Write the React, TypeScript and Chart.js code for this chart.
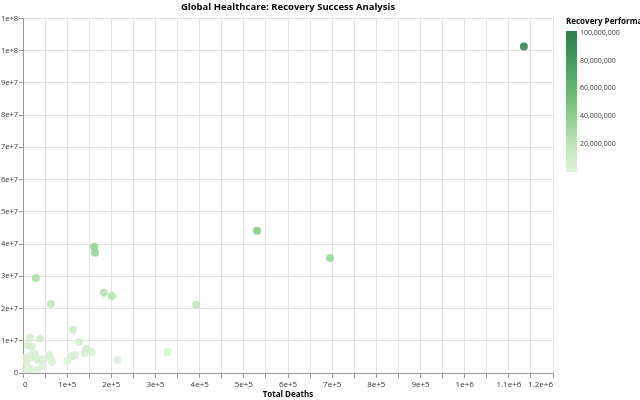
import React, { useEffect, useRef } from "react";
import { Chart, registerables } from "chart.js";

Chart.register(...registerables);

const chartTitle = "Global Healthcare: Recovery Success Analysis";
const xTitle = "Total Deaths";
const legendTitle = "Recovery Performance";

const totalDeaths = [
  1134000, 530000, 695000, 161000, 163000, 29000, 183000, 201000, 392000, 63000,
  113000, 16000, 38000, 127000, 11000, 20000, 143000, 156000, 140000, 111000,
  100000, 328000, 215000, 118000, 0, 2000, 9000, 18000, 27000, 34000,
  45000, 61000, 66000, 59000, 45000, 32000, 20000, 9000, 5000, 38000,
  14000, 25000,
];
const totalRecovered = [
  101300000, 44100000, 35700000, 39200000, 37300000, 29500000, 24900000, 23900000, 21100000, 21400000,
  13400000, 10900000, 10600000, 9600000, 8700000, 8100000, 7500000, 6500000, 6200000, 5300000,
  3700000, 6500000, 4000000, 5600000, 300000, 4700000, 4000000, 5600000, 5900000, 4000000,
  4300000, 4700000, 3400000, 5600000, 2200000, 900000, 600000, 2200000, 3400000, 4000000,
  1500000, 4800000,
];
const legendTicks = [20000000, 40000000, 60000000, 80000000, 100000000];

const colorStops: [number, [number, number, number]][] = [
  [0, [224, 243, 219]],
  [0.2, [190, 228, 183]],
  [0.4, [140, 205, 138]],
  [0.6, [96, 182, 110]],
  [0.8, [65, 155, 92]],
  [1, [45, 125, 78]],
];

function colorAt(t: number, alpha = 1): string {
  t = Math.max(0, Math.min(1, t));
  for (let i = 1; i < colorStops.length; i++) {
    const [t1, c1] = colorStops[i];
    const [t0, c0] = colorStops[i - 1];
    if (t <= t1) {
      const f = (t - t0) / (t1 - t0);
      const c = c0.map((v, k) => Math.round(v + (c1[k] - v) * f));
      return `rgba(${c[0]},${c[1]},${c[2]},${alpha})`;
    }
  }
  const c = colorStops[colorStops.length - 1][1];
  return `rgba(${c[0]},${c[1]},${c[2]},${alpha})`;
}

const colorMax = Math.max(...totalRecovered);

const FONT = "'Open Sans', 'Noto Sans', sans-serif";

const legendPlugin = {
  id: "gradLegend",
  afterDraw(chart: any) {
    const ctx = chart.ctx as CanvasRenderingContext2D;
    const x = 566, top = 31, bottom = 172, w = 11;
    const h = bottom - top;
    ctx.save();
    const g = ctx.createLinearGradient(0, bottom, 0, top);
    for (let i = 0; i <= 20; i++) g.addColorStop(i / 20, colorAt(i / 20));
    ctx.fillStyle = g;
    ctx.fillRect(x, top, w, h);
    ctx.fillStyle = "#000";
    ctx.font = `bold 8px ${FONT}`;
    ctx.textAlign = "left";
    ctx.textBaseline = "middle";
    ctx.fillText(legendTitle, x, 22);
    ctx.font = `7px ${FONT}`;
    ctx.fillStyle = "#333";
    for (const v of legendTicks) {
      const y = bottom - (v / colorMax) * h;
      ctx.fillText(v.toLocaleString("en-US"), x + 14, y);
    }
    ctx.restore();
  },
};

export default function App() {
  const ref = useRef<HTMLCanvasElement | null>(null);
  useEffect(() => {
    if (!ref.current) return;
    const points = totalDeaths.map((d, i) => ({ x: d, y: totalRecovered[i] }));
    const colors = totalRecovered.map((v) => colorAt(v / colorMax, 0.85));
    const chart = new Chart(ref.current, {
      type: "scatter",
      data: {
        datasets: [
          {
            data: points,
            pointBackgroundColor: colors,
            pointBorderColor: colors,
            pointBorderWidth: 0,
            pointRadius: 4,
          },
        ],
      },
      options: {
        responsive: false,
        animation: false,
        layout: { padding: { left: 0, right: 87, top: 0, bottom: 0 } },
        plugins: {
          legend: { display: false },
          tooltip: { enabled: false },
          title: {
            display: true,
            text: chartTitle,
            fullSize: false,
            color: "#000",
            font: { family: FONT, size: 9.5, weight: "bold" },
            padding: { top: 2, bottom: 5 },
          },
        },
        scales: {
          x: {
            type: "linear",
            min: 0,
            max: 1200000,
            ticks: {
              stepSize: 50000,
              autoSkip: false,
              maxRotation: 0,
              align: "inner",
              color: "#333",
              padding: 2,
              font: { family: FONT, size: 8 },
              callback: (v: any) => (Number(v) % 100000 === 0 ? (Number(v) === 0 ? "0" : Number(v).toExponential()) : ""),
            },
            grid: { color: "#e3e3e3", tickColor: "#999", tickLength: 5 },
            border: { color: "#999", width: 1 },
            title: {
              display: true,
              text: xTitle,
              color: "#000",
              font: { family: FONT, size: 8, weight: "bold" },
              padding: { top: 2, bottom: 0 },
            },
            afterFit: (s: any) => {
              s.height = 27;
            },
          },
          y: {
            type: "linear",
            min: 0,
            max: 110000000,
            ticks: {
              stepSize: 10000000,
              color: "#333",
              padding: 1,
              font: { family: FONT, size: 7.5 },
              callback: (v: any) => (Number(v) === 0 ? "0" : Number(v).toExponential(0)),
            },
            grid: { color: "#e3e3e3", tickColor: "#999", tickLength: 4 },
            border: { color: "#999", width: 1 },
            afterFit: (s: any) => {
              s.width = 23;
            },
          },
        },
      },
      plugins: [legendPlugin],
    } as any);
    return () => chart.destroy();
  }, []);
  return (
    <div style={{ position: "fixed", left: 0, top: 0, width: 640, height: 400, background: "#fff" }}>
      <canvas ref={ref} width={640} height={400} />
    </div>
  );
}
